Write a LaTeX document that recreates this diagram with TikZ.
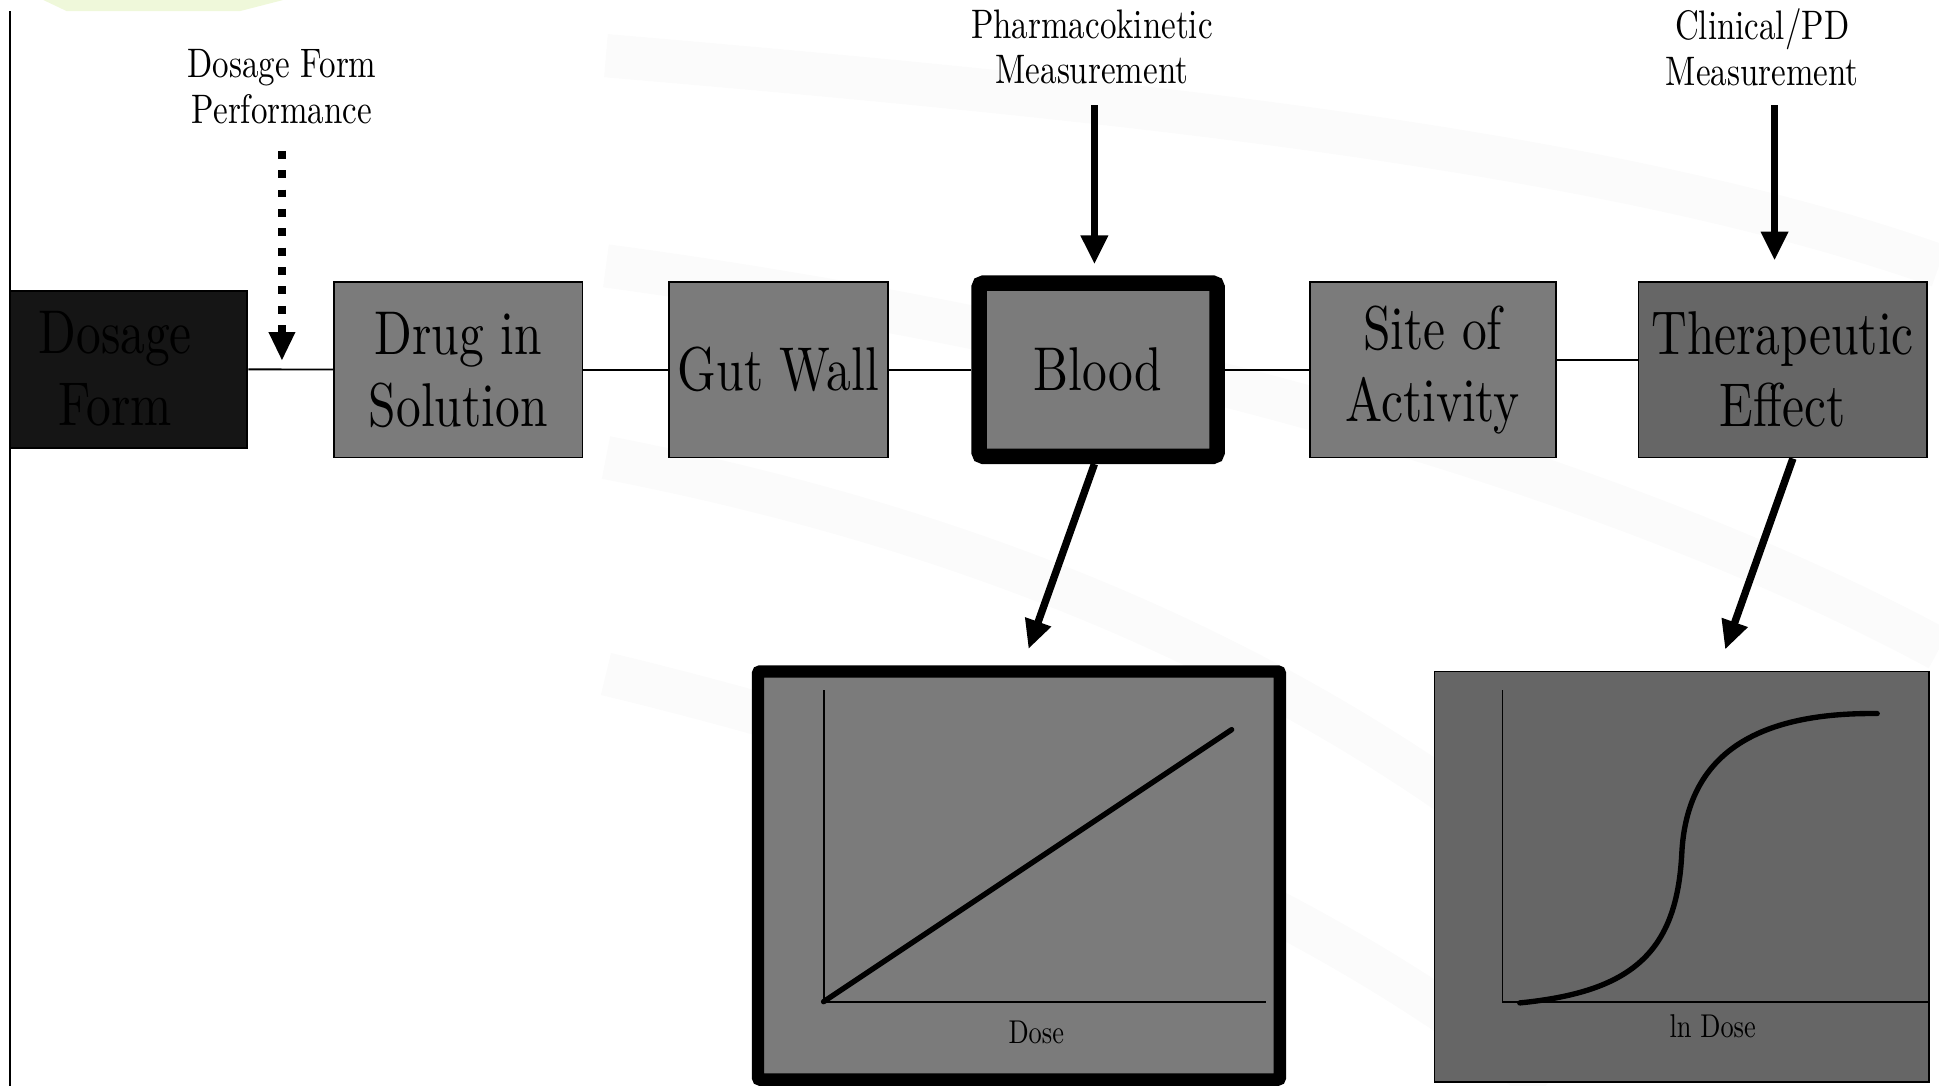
\documentclass[tikz,border=0pt]{standalone}
\usepackage{fontspec}
\setmainfont{lmroman10-regular.otf}[FakeStretch=0.8]
\usetikzlibrary{arrows.meta}

\definecolor{stagegray}{HTML}{7B7B7B}
\definecolor{effectgray}{HTML}{666666}
\definecolor{formblack}{HTML}{151515}
\definecolor{leafgreen}{HTML}{EFF8DA}

\begin{document}
\begin{tikzpicture}[x=0.6pt,y=-0.6pt,
        stage/.style={draw=black, line width=0.9pt, fill=stagegray, inner sep=0pt, minimum height=85.2pt, align=center, font=\fontsize{30}{35}\selectfont},
        measure/.style={align=center, font=\fontsize{20}{22.2}\selectfont},
        link/.style={line width=0.9pt},
        bigarrow/.style={line width=3.6pt, -{Triangle[length=14pt,width=12.5pt]}},
        dotarrow/.style={line width=3.8pt, dash pattern=on 3.8pt off 5.6pt, -{Triangle[length=14pt,width=12pt]}},
        curve/.style={line width=2.6pt, line cap=round},
        axislabel/.style={font=\fontsize{16}{18}\selectfont},
        haze/.style={draw=gray!3, line width=21pt}]
        \useasboundingbox (0,0) rectangle (1568,878);

        % Background
        \draw[haze] (490,45) .. controls (900,80) and (1300,120) .. (1568,215);
        \draw[haze] (490,215) .. controls (900,270) and (1300,380) .. (1568,525);
        \draw[haze] (490,370) .. controls (800,430) and (1050,540) .. (1250,700);
        \draw[haze] (490,545) .. controls (800,620) and (1050,720) .. (1250,878);
        \fill[leafgreen] (35,0) -- (229,0) -- (194,9) -- (54,9) -- cycle;
        \draw[link] (8,9) -- (8,878);

        % Stage nodes
        \node[stage, fill=formblack, minimum width=115.2pt, minimum height=76.2pt] (dosage) at (104,298.5) {\hspace*{-13pt}Dosage\\\hspace*{-13pt}Form};
        \node[stage, minimum width=120.6pt] (drug) at (370.5,299) {Drug in\\Solution};
        \node[stage, minimum width=106.2pt] (gut) at (629.5,299) {Gut Wall};
        \node[stage, line width=7.5pt, rounded corners=2pt, minimum width=115.5pt, minimum height=84pt] (blood) at (888,299) {Blood};
        \node[stage, minimum width=119.4pt] (site) at (1158.5,299) {Site of\\Activity};
        \node[stage, fill=effectgray, minimum width=139.8pt] (thera) at (1441.5,299) {Therapeutic\\Effect};

        \draw[link] (dosage) -- (drug);
        \draw[link] (drug) -- (gut);
        \draw[link] (gut) -- (blood);
        \draw[link] (blood) -- (site);
        \draw[link] ([yshift=4.8pt]site.east) -- ([yshift=4.8pt]thera.west);

        % Measurement nodes
        \node[measure] (perf) at (228,70) {Dosage Form\\Performance};
        \coordinate (perfstart) at (228,122);
        \draw[dotarrow, shorten >=4pt] (perfstart) -- (perfstart |- dosage.east);

        \node[measure] (pk) at (883,38) {Pharmacokinetic\\Measurement};
        \coordinate (pkstart) at (885,85);
        \draw[bigarrow, shorten >=5.4pt] (pkstart) -- (pkstart |- blood.north);

        \node[measure] (cpd) at (1425,38) {Clinical/PD\\Measurement};
        \coordinate (cpdstart) at (1435,85);
        \draw[bigarrow, shorten >=10pt] (cpdstart) -- (cpdstart |- thera.north);

        % Plot nodes
        \node[draw=black, line width=6pt, rounded corners=1pt, fill=stagegray, inner sep=0pt, minimum width=253.2pt, minimum height=198pt] (pkplot) at (824,708) {};
        \draw[link] (666,558) -- (666,810) -- (1024,810);
        \draw[curve] (666,810) -- (996,590);
        \node[axislabel] (dose) at (838,835) {Dose};
        \draw[bigarrow, shorten >=8.4pt] ([xshift=-1.8pt]blood.south) -- ([xshift=1.8pt]pkplot.north);

        \node[draw=black, line width=0.9pt, fill=effectgray, inner sep=0pt, minimum width=240pt, minimum height=199.2pt] (pdplot) at (1360,709) {};
        \draw[link] (1215,558) -- (1215,810) -- (1560,810);
        \draw[curve] (1229,811) .. controls (1320,802) and (1356,770) .. (1360,690) .. controls (1364,610) and (1420,576) .. (1518,577);
        \node[axislabel] (lndose) at (1385,830) {ln Dose};
        \draw[bigarrow, shorten >=10.8pt] ([xshift=5pt]thera.south) -- ([xshift=17.4pt]pdplot.north);
\end{tikzpicture}
\end{document}
